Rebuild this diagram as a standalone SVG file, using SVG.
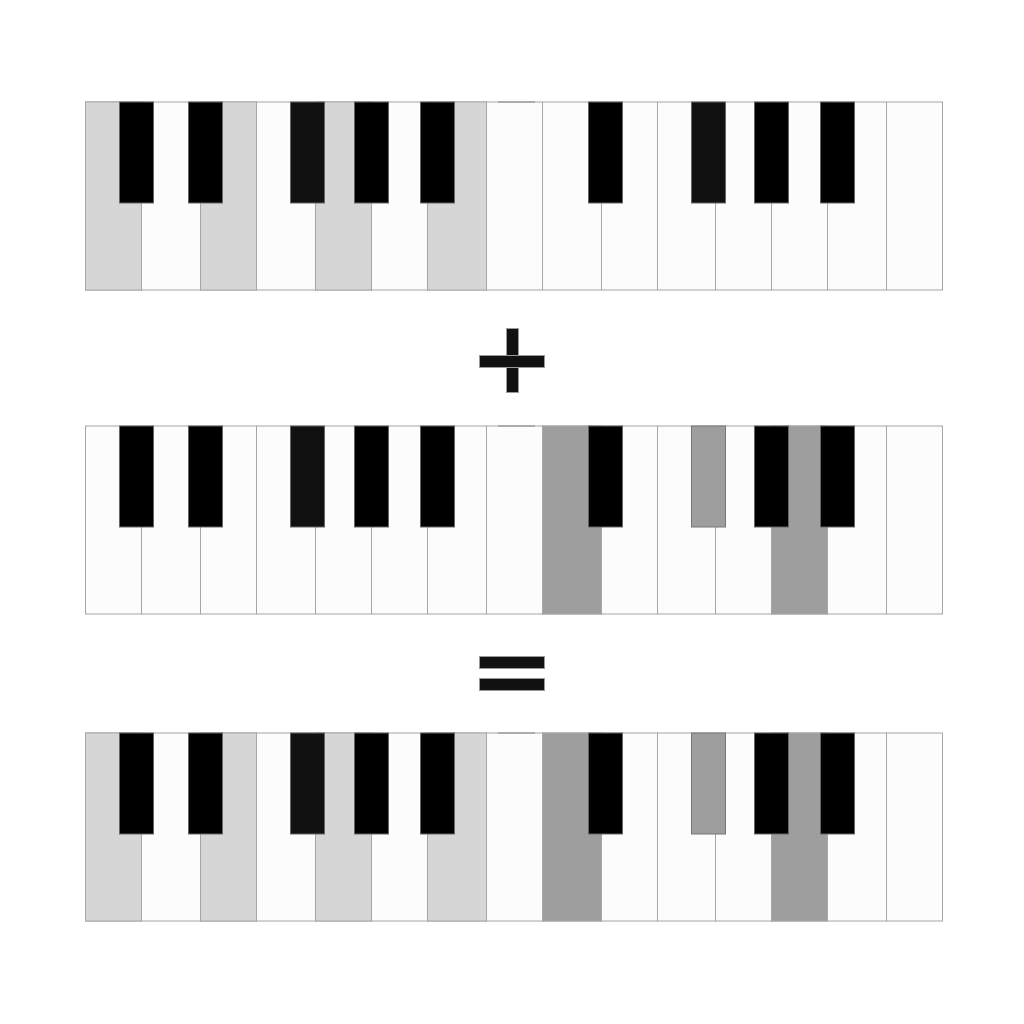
<svg xmlns="http://www.w3.org/2000/svg" xmlns:xlink="http://www.w3.org/1999/xlink" width="1024" height="1024" viewBox="0 0 1024 1024">
<style>
.w{fill:#fcfcfc;stroke:#a6a6a6;stroke-width:1}
.wl{fill:#d6d6d6;stroke:#a6a6a6;stroke-width:1}
.wd{fill:#9e9e9e;stroke:#a6a6a6;stroke-width:1}
.b{fill:#000;stroke:#666;stroke-width:1}
.b1{fill:#111;stroke:#666;stroke-width:1}
.bd{fill:#9e9e9e;stroke:#777;stroke-width:1}
.g{stroke:#888;stroke-width:1}
.op{fill:#111;stroke:#999;stroke-width:1}
</style>
<rect width="1024" height="1024" fill="#fff"/>
<defs>
<g id="whites">
<rect class="w" x="85.5" y="0.5" width="56" height="188"/>
<rect class="w" x="141.5" y="0.5" width="59" height="188"/>
<rect class="w" x="200.5" y="0.5" width="56" height="188"/>
<rect class="w" x="256.5" y="0.5" width="59" height="188"/>
<rect class="w" x="315.5" y="0.5" width="56" height="188"/>
<rect class="w" x="371.5" y="0.5" width="56" height="188"/>
<rect class="w" x="427.5" y="0.5" width="59" height="188"/>
<rect class="w" x="486.5" y="0.5" width="56" height="188"/>
<rect class="w" x="542.5" y="0.5" width="59" height="188"/>
<rect class="w" x="601.5" y="0.5" width="56" height="188"/>
<rect class="w" x="657.5" y="0.5" width="58" height="188"/>
<rect class="w" x="715.5" y="0.5" width="56" height="188"/>
<rect class="w" x="771.5" y="0.5" width="56" height="188"/>
<rect class="w" x="827.5" y="0.5" width="59" height="188"/>
<rect class="w" x="886.5" y="0.5" width="56" height="188"/>
<line class="g" x1="498" y1="0.5" x2="535" y2="0.5"/>
</g>
</defs>
<g id="keyboard-1" transform="translate(0,101.5)">
<use xlink:href="#whites" href="#whites"/>
<rect class="wl" x="85.5" y="0.5" width="56" height="188"/>
<rect class="wl" x="200.5" y="0.5" width="56" height="188"/>
<rect class="wl" x="315.5" y="0.5" width="56" height="188"/>
<rect class="wl" x="427.5" y="0.5" width="59" height="188"/>
<rect class="b" x="119.5" y="0.5" width="34" height="101"/>
<rect class="b" x="188.5" y="0.5" width="34" height="101"/>
<rect class="b1" x="290.5" y="0.5" width="34" height="101"/>
<rect class="b" x="354.5" y="0.5" width="34" height="101"/>
<rect class="b" x="420.5" y="0.5" width="34" height="101"/>
<rect class="b" x="588.5" y="0.5" width="34" height="101"/>
<rect class="b1" x="691.5" y="0.5" width="34" height="101"/>
<rect class="b" x="754.5" y="0.5" width="34" height="101"/>
<rect class="b" x="820.5" y="0.5" width="34" height="101"/>
</g>
<g id="plus">
<rect class="op" x="506.5" y="328.5" width="12" height="64"/>
<rect class="op" x="479.5" y="355.5" width="65" height="12"/>
</g>
<g id="keyboard-2" transform="translate(0,425.5)">
<use xlink:href="#whites" href="#whites"/>
<rect class="wd" x="542.5" y="0.5" width="59" height="188"/>
<rect class="wd" x="771.5" y="0.5" width="56" height="188"/>
<rect class="b" x="119.5" y="0.5" width="34" height="101"/>
<rect class="b" x="188.5" y="0.5" width="34" height="101"/>
<rect class="b1" x="290.5" y="0.5" width="34" height="101"/>
<rect class="b" x="354.5" y="0.5" width="34" height="101"/>
<rect class="b" x="420.5" y="0.5" width="34" height="101"/>
<rect class="b" x="588.5" y="0.5" width="34" height="101"/>
<rect class="bd" x="691.5" y="0.5" width="34" height="101"/>
<rect class="b" x="754.5" y="0.5" width="34" height="101"/>
<rect class="b" x="820.5" y="0.5" width="34" height="101"/>
</g>
<g id="equals">
<rect class="op" x="479.5" y="656.5" width="65" height="12"/>
<rect class="op" x="479.5" y="678.5" width="65" height="12"/>
</g>
<g id="keyboard-3" transform="translate(0,732.5)">
<use xlink:href="#whites" href="#whites"/>
<rect class="wl" x="85.5" y="0.5" width="56" height="188"/>
<rect class="wl" x="200.5" y="0.5" width="56" height="188"/>
<rect class="wl" x="315.5" y="0.5" width="56" height="188"/>
<rect class="wl" x="427.5" y="0.5" width="59" height="188"/>
<rect class="wd" x="542.5" y="0.5" width="59" height="188"/>
<rect class="wd" x="771.5" y="0.5" width="56" height="188"/>
<rect class="b" x="119.5" y="0.5" width="34" height="101"/>
<rect class="b" x="188.5" y="0.5" width="34" height="101"/>
<rect class="b1" x="290.5" y="0.5" width="34" height="101"/>
<rect class="b" x="354.5" y="0.5" width="34" height="101"/>
<rect class="b" x="420.5" y="0.5" width="34" height="101"/>
<rect class="b" x="588.5" y="0.5" width="34" height="101"/>
<rect class="bd" x="691.5" y="0.5" width="34" height="101"/>
<rect class="b" x="754.5" y="0.5" width="34" height="101"/>
<rect class="b" x="820.5" y="0.5" width="34" height="101"/>
</g>
</svg>
